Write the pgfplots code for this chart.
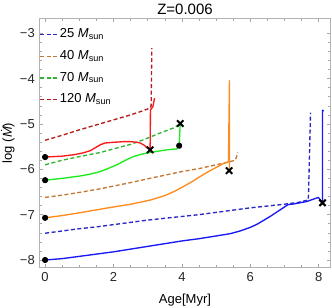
\documentclass[border=0pt]{standalone}
\usepackage{pgfplots}
\pgfplotsset{compat=1.18}
\usepackage{fontspec}
\setmainfont{Liberation Sans}
\definecolor{cB}{RGB}{25,25,245}
\definecolor{cBd}{RGB}{40,40,200}
\definecolor{cO}{RGB}{255,140,30}
\definecolor{cOd}{RGB}{195,120,50}
\definecolor{cG}{RGB}{30,235,30}
\definecolor{cGd}{RGB}{50,180,50}
\definecolor{cR}{RGB}{250,25,25}
\definecolor{cRd}{RGB}{180,30,30}
\begin{document}
\fontsize{13}{15}\selectfont
\begin{tikzpicture}
\begin{axis}[
  scale only axis, width=291.4pt, height=249.4pt,
  xmin=-0.17, xmax=8.35, ymin=-8.17, ymax=-2.67,
  xtick={0,2,4,6,8}, minor x tick num=3,
  ytick={-8,-7,-6,-5,-4,-3}, yticklabels={−8,−7,−6,−5,−4,−3}, minor y tick num=4,
  /pgf/number format/assume math mode=true,
  axis line style={draw=black!30, line width=0.6pt},
  tick style={black!35, line width=0.5pt},
  major tick length=4pt, minor tick length=2.5pt,
  ticklabel style={font=\fontsize{13}{15}\selectfont, text=black!85},
  every axis title shift=0pt,
  title={Z=0.006},
  title style={font=\fontsize{15}{18}\selectfont, at={(0.5,1)}, anchor=base, yshift=3.3pt, inner sep=0pt},
  xlabel={Age[Myr]},
  xlabel style={font=\fontsize{13}{15}\selectfont, at={(0.5,0)}, anchor=base, yshift=-35.6pt, inner sep=0pt},
  ylabel={log (\textit{\.M})},
  every axis y label/.style={font=\fontsize{13}{15}\selectfont, at={(-0.0937,0.5)}, anchor=base, rotate=90, inner sep=0pt},
  legend style={at={(0,1)}, anchor=north west, draw=none, fill=none, inner xsep=0pt, inner ysep=0pt, yshift=-10.2pt,
    row sep=9.7pt, nodes={inner sep=0pt, text height=9pt, text depth=3pt, font=\fontsize{13}{15}\selectfont},
    /tikz/every even column/.append style={column sep=8pt}},
  legend cell align=left,
  legend image code/.code={\draw[#1] (0pt,0pt) -- (19pt,0pt);},
  every axis plot/.append style={line width=1.35pt, line join=round},
]
% dashed series
\addplot[cBd, dash pattern=on 4pt off 2.5pt] coordinates {
(0,-7.41) (0.5,-7.36) (1,-7.31) (1.5,-7.27) (2,-7.22) (2.5,-7.17) (3,-7.12) (3.5,-7.08) (4,-7.04) (4.5,-7.0) (5,-6.95) (5.5,-6.9) (6,-6.85) (6.5,-6.81) (7,-6.77) (7.4,-6.73) (7.68,-6.68) (7.70,-6.6) (7.76,-4.75)};
\addlegendentry{25 \textit{M}\textsubscript{sun}}
\addplot[cOd, dash pattern=on 4pt off 2.5pt] coordinates {
(0,-6.62) (0.5,-6.57) (1,-6.51) (1.61,-6.43) (2,-6.37) (2.58,-6.28) (3,-6.21) (3.56,-6.12) (4,-6.05) (4.53,-5.98) (5,-5.9) (5.31,-5.85) (5.56,-5.8) (5.6,-5.72) (5.63,-5.63)};
\addlegendentry{40 \textit{M}\textsubscript{sun}}
\addplot[cGd, dash pattern=on 4pt off 2.5pt] coordinates {
(0,-5.9) (0.5,-5.8) (1,-5.72) (1.61,-5.63) (2,-5.55) (2.5,-5.45) (2.87,-5.35) (3.36,-5.2) (3.75,-5.09) (3.95,-5.0)};
\addlegendentry{70 \textit{M}\textsubscript{sun}}
\addplot[cRd, dash pattern=on 4pt off 2.5pt] coordinates {
(0,-5.36) (0.5,-5.25) (1,-5.13) (1.5,-5.02) (2,-4.91) (2.5,-4.8) (2.78,-4.73) (3.07,-4.65) (3.1,-4.6) (3.12,-3.33)};
\addlegendentry{120 \textit{M}\textsubscript{sun}}
% solid series
\addplot[cB, forget plot] coordinates {
(0,-8.0) (0.5,-7.97) (1,-7.92) (1.5,-7.87) (2,-7.82) (2.5,-7.76) (3,-7.7) (3.5,-7.64) (4,-7.58) (4.5,-7.53) (5,-7.47) (5.41,-7.42) (5.7,-7.36) (6,-7.28) (6.2,-7.21) (6.38,-7.13) (6.6,-7.03) (6.8,-6.93) (7.0,-6.83) (7.1,-6.78) (7.3,-6.76) (7.65,-6.71) (7.99,-6.62) (8.11,-6.74) (8.11,-4.70) (8.15,-4.71)};
\addplot[cO, forget plot] coordinates {
(0,-7.07) (0.5,-7.02) (1,-6.96) (1.61,-6.88) (2,-6.83) (2.5,-6.77) (3.07,-6.68) (3.5,-6.58) (3.8,-6.48) (4.04,-6.38) (4.3,-6.27) (4.53,-6.16) (4.8,-6.04) (5.02,-5.95) (5.2,-5.88) (5.36,-5.83) (5.39,-4.05) (5.39,-6.03)};
\addplot[cG, forget plot] coordinates {
(0,-6.24) (0.5,-6.2) (1,-6.15) (1.3,-6.11) (1.61,-6.05) (1.85,-5.98) (2.1,-5.9) (2.35,-5.8) (2.58,-5.72) (2.8,-5.67) (3.07,-5.63) (3.3,-5.6) (3.56,-5.57) (3.85,-5.55) (3.92,-5.48) (3.95,-4.99)};
\addplot[cR, forget plot] coordinates {
(0,-5.73) (0.5,-5.71) (0.83,-5.68) (1.1,-5.64) (1.32,-5.59) (1.5,-5.51) (1.61,-5.46) (1.75,-5.42) (1.9,-5.41) (2.1,-5.40) (2.29,-5.39) (2.49,-5.39) (2.65,-5.40) (2.78,-5.42) (2.9,-5.47) (2.97,-5.52) (3.07,-5.57) (3.08,-4.69) (3.15,-4.62) (3.2,-4.43)};
% markers
\addplot[only marks, mark=*, mark size=2.4pt, black, forget plot] coordinates {
(0,-8.0) (0,-7.07) (0,-6.24) (0,-5.73) (3.92,-5.48)};
\addplot[only marks, mark=x, mark size=4.5pt, line width=2pt, black, forget plot] coordinates {
(3.07,-5.57) (3.95,-4.99) (5.38,-6.03) (8.11,-6.74)};
\end{axis}
\pgfresetboundingbox
\path[use as bounding box] ([xshift=-39.3pt,yshift=-39.3pt]current axis.south west) rectangle ([xshift=1.3pt,yshift=18.3pt]current axis.north east);
\end{tikzpicture}
\end{document}
